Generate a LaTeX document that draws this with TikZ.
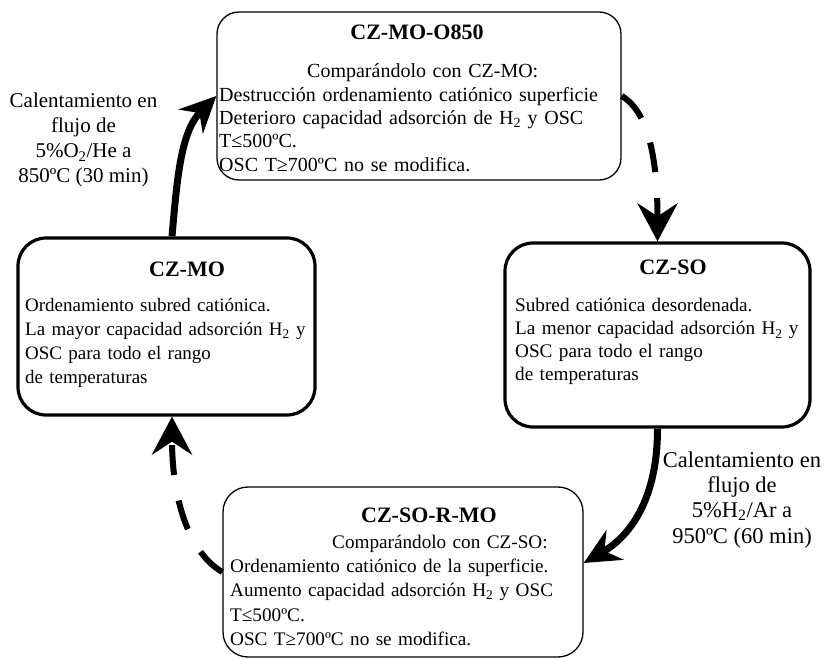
\documentclass[tikz,border=0pt]{standalone}
\usepackage{fontspec}
\setmainfont{Liberation Serif}
\usetikzlibrary{arrows.meta}
\begin{document}
\begin{tikzpicture}[x=1pt,y=1pt,
  box/.style={draw, rounded corners=22pt, inner sep=0pt, line width=1.3pt},
  stage/.style={box, line width=3.2pt, rounded corners=28pt},
  ttl/.style={font=\fontsize{22}{26}\selectfont\bfseries, inner sep=0pt, anchor=base},
  txt/.style={font=\fontsize{20}{23.3}\selectfont, inner sep=0pt, align=left, anchor=base west},
  cond/.style={font=\fontsize{21}{25}\selectfont, inner sep=0pt, align=center, anchor=base},
  heat/.style={line width=7pt, -{Stealth[length=36pt,width=34pt,inset=12pt]}},
  cool/.style={line width=6pt, dash pattern=on 30pt off 26pt, -{Stealth[length=38pt,width=40pt,inset=13pt]}},
]
\useasboundingbox (0,0) rectangle (824,659);

% stage boxes
\node[box, minimum width=404pt, minimum height=168pt] (o850) at (419,563) {};
\node[stage, minimum width=297pt, minimum height=177pt] (mo) at (166.5,332.5) {};
\node[stage, minimum width=305pt, minimum height=184pt] (so) at (657.5,324) {};
\node[box, rounded corners=25pt, minimum width=360pt, minimum height=170pt] (somo) at (403,87) {};

% titles
\node[ttl] (o850t) at (417,619) {CZ-MO-O850};
\node[ttl] (mot) at (187,382) {CZ-MO};
\node[ttl] (sot) at (673,384) {CZ-SO};
\node[ttl] (somot) at (429,137) {CZ-SO-R-MO};

% descriptions
\node[txt, text width=400pt] (o850d) at (219,581) {%
  \hspace*{88pt}Comparándolo con CZ-MO:\\
  Destrucción ordenamiento catiónico superficie\\
  Deterioro capacidad adsorción de H\textsubscript{2} y OSC\\
  T≤500ºC.\\
  OSC T≥700ºC no se modifica.};
\node[txt, text width=290pt, font=\fontsize{19}{24}\selectfont] (mod) at (25,347) {%
  Ordenamiento subred catiónica.\\
  La mayor capacidad adsorción H\textsubscript{2} y\\
  OSC para todo el rango\\
  de temperaturas};
\node[txt, text width=295pt, font=\fontsize{19.2}{23}\selectfont] (sod) at (515,347) {%
  Subred catiónica desordenada.\\
  La menor capacidad adsorción H\textsubscript{2} y\\
  OSC para todo el rango\\
  de temperaturas};
\node[txt, text width=350pt, font=\fontsize{19.2}{24.4}\selectfont] (somod) at (230,111) {%
  \hspace*{102pt}Comparándolo con CZ-SO:\\
  Ordenamiento catiónico de la superficie.\\
  Aumento capacidad adsorción H\textsubscript{2} y OSC\\
  T≤500ºC.\\
  OSC T≥700ºC no se modifica.};

% treatment conditions
\node[cond] (oxcond) at (83.5,476) {Calentamiento en\\flujo de\\5\%O\textsubscript{2}/He a\\850ºC (30 min)};
\node[cond, font=\fontsize{22.5}{25.3}\selectfont] (redcond) at (742,116) {Calentamiento en\\flujo de\\5\%H\textsubscript{2}/Ar a\\950ºC (60 min)};

% cycle arrows
\draw[heat] ([xshift=5.5pt]mo.north) .. controls +(85:60) and +(225:50) .. (o850.west);
\draw[cool] (o850.east) .. controls +(-30:35) and +(90:70) .. (so.north);
\draw[heat] (so.south) .. controls +(-90:80) and +(30:45) .. ([yshift=9pt]somo.east);
\draw[cool] (somo.west) .. controls +(150:40) and +(-90:80) .. ([xshift=5.5pt]mo.south);
\end{tikzpicture}
\end{document}
